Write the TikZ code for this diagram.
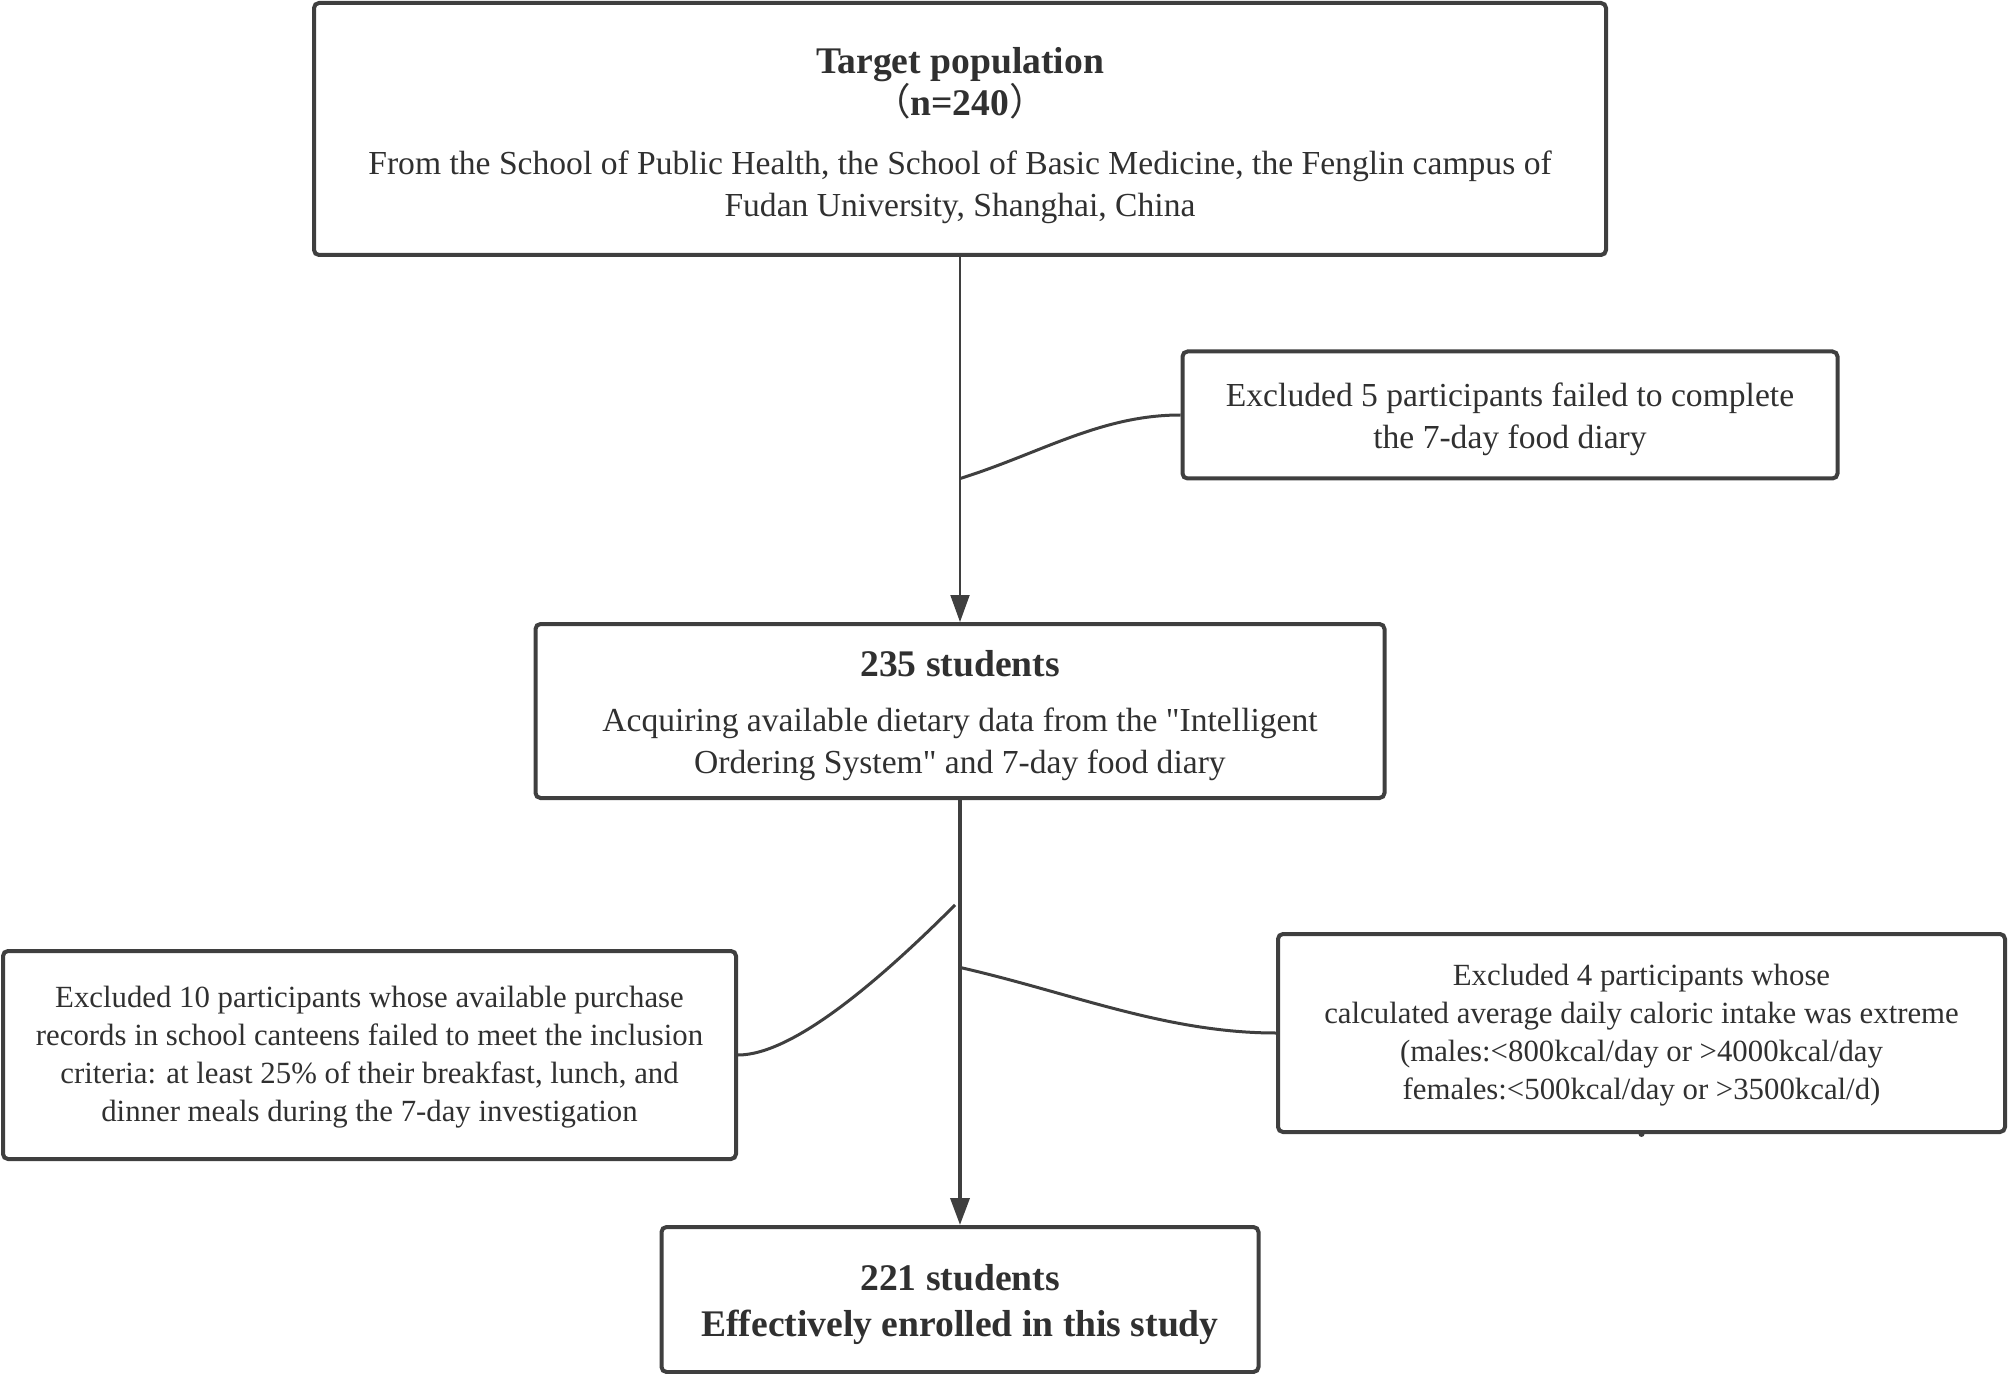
\documentclass[tikz,border=0pt]{standalone}
\usepackage{fontspec}
\setmainfont{Liberation Serif}[Ligatures=TeXOff]
\newfontfamily\cjk{Noto Sans CJK SC}
\usetikzlibrary{positioning, arrows.meta}

\definecolor{boxline}{HTML}{3F3F3F}
\definecolor{boxtext}{HTML}{303030}

\tikzset{
	stagebox/.style={draw=boxline, line width=2pt, rounded corners=2.5pt, align=center,
		text=boxtext, inner sep=0pt, font=\fontsize{16.8}{21}\selectfont},
	sidebox/.style={stagebox, font=\fontsize{15.4}{19}\selectfont},
	flow/.style={draw=boxline, line width=1pt, -{Triangle[length=13.5pt, width=9.5pt]}},
	branch/.style={draw=boxline, line width=1.5pt},
}

\begin{document}
\begin{tikzpicture}[x=0.5pt, y=-0.5pt]
	\useasboundingbox (0,0) rectangle (2008,1374);

	\node[stagebox, minimum width=646pt, minimum height=126pt] (pop) at (960,129)
		{\rule{0pt}{19.7pt}{\fontsize{18.8}{21}\selectfont\bfseries Target population}\\
		{\fontsize{18.8}{21}\selectfont{\cjk （}\textbf{n=240}{\cjk ）}}\\[8.75pt]
		From the School of Public Health, the School of Basic Medicine, the Fenglin campus of\\
		Fudan University, Shanghai, China};
	\node[stagebox, minimum width=424.5pt, minimum height=87pt, below=182.5pt of pop] (s235)
		{\rule{0pt}{17.2pt}{\fontsize{18.8}{21}\selectfont\bfseries 235 students}\\[6.5pt]
		Acquiring available dietary data from the "Intelligent\\
		Ordering System" and 7-day food diary};
	\node[stagebox, font=\fontsize{18.8}{23}\selectfont\bfseries, minimum width=298.5pt,
		minimum height=72.5pt, below=212.5pt of s235] (s221)
		{\rule{0pt}{17.7pt}221 students\\Effectively enrolled in this study};

	% exclusions
	\node[stagebox, minimum width=327.5pt, minimum height=63.5pt] (ex5) at (1510,415)
		{\rule{0pt}{16pt}Excluded 5 participants failed to complete\\the 7-day food diary};
	\node[sidebox, minimum width=366.5pt, minimum height=104pt] (ex10) at (369.5,1055)
		{\rule{0pt}{13pt}Excluded 10 participants whose available purchase\\
		records in school canteens failed to meet the inclusion\\
		criteria: at least 25\% of their breakfast, lunch, and\\
		dinner meals during the 7-day investigation};
	\node[sidebox, minimum width=363.5pt, minimum height=99pt] (ex4) at (1641.5,1033)
		{\rule{0pt}{13pt}Excluded 4 participants whose\\
		calculated average daily caloric intake was extreme\\
		(males:<800kcal/day or >4000kcal/day\\
		females:<500kcal/day or >3500kcal/d)};

	\path (pop.south) -- (s235.north) coordinate[pos=0.607] (k5);
	\path (s235.south) -- (s221.north) coordinate[pos=0.247] (k10);
	\path (s235.south) -- (s221.north) coordinate[pos=0.394] (k4);

	\draw[flow] (pop) -- (s235);
	\draw[flow, line width=1.8pt] (s235) -- (s221);

	\draw[branch] (k5) .. controls +(80,-25) and +(-80,0) .. (ex5.west);
	\draw[branch] ([xshift=-2.5pt]k10) .. controls +(-75,75) and +(55,0) .. (ex10.east);
	\draw[branch] (k4) .. controls +(110,25) and +(-110,0) .. (ex4.west);
	\fill[boxline] (ex4.south) circle (1.5pt);
\end{tikzpicture}
\end{document}
